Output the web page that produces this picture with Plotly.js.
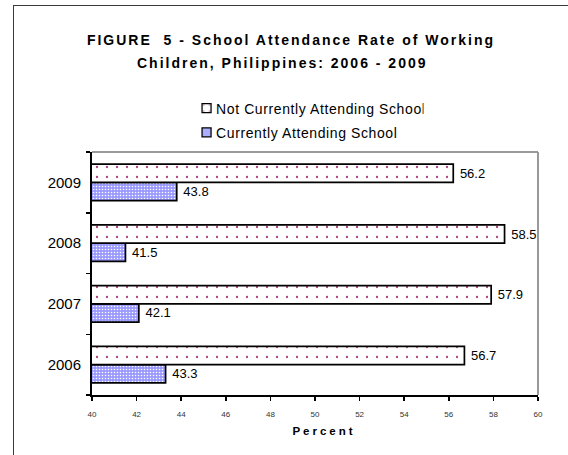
<!DOCTYPE html>
<html>
<head>
<meta charset="utf-8">
<script src="https://cdn.plot.ly/plotly-3.0.1.min.js"></script>
<style>
  html, body { margin: 0; padding: 0; background: #fff; }
  #wrap { position: relative; width: 568px; height: 455px; overflow: hidden; }
  #frame { position: absolute; left: 13px; top: 5px; width: 700px; height: 700px;
           border-left: 1.5px solid #3a3a3a; border-top: 1.5px solid #3a3a3a; pointer-events: none; }
  #chart { position: absolute; left: 0; top: 0; width: 568px; height: 455px; }
  .gtitle { letter-spacing: 2px; }
  .annotation-text { letter-spacing: 2px; }
  .xtitle { letter-spacing: 3px; transform: translateX(9px); }
  .legend .legendtext { letter-spacing: 0.6px; transform: translateX(-10.5px); }
  .legend .legendpoints path { transform: translate(20px, 0px) scale(0.75); }
</style>
</head>
<body>
<div id="wrap">
  <div id="chart"></div>
  <div id="frame"></div>
</div>
<script>
const years = ["2006", "2007", "2008", "2009"];
const notAttending = [56.7, 57.9, 58.5, 56.2];
const attending = [43.3, 42.1, 41.5, 43.8];
const seriesNames = ["Not Currently Attending School", "Currently Attending School"];
const xTicks = [40, 42, 44, 46, 48, 50, 52, 54, 56, 58, 60];
const titleLines = ["FIGURE  5 - School Attendance Rate of Working", "Children, Philippines: 2006 - 2009"];

const FONT = "Arial, 'Liberation Sans', sans-serif";
const labelFont = { family: FONT, size: 13, color: "#000" };

const traces = [
  {
    type: "bar", orientation: "h", name: seriesNames[1], legendgroup: "b", legendrank: 2,
    y: years, x: attending,
    text: attending.map(v => " " + v.toFixed(1)), textposition: "outside",
    textfont: labelFont, cliponaxis: false,
    marker: {
      color: "#9999FF",
      line: { color: "#000", width: 1.7 },
      pattern: { shape: ".", bgcolor: "#9999FF", fgcolor: "#ffffff", size: 3, solidity: 0.22, fillmode: "replace" }
    }
  },
  {
    type: "bar", orientation: "h", name: seriesNames[0], legendgroup: "a", legendrank: 1,
    y: years, x: notAttending,
    text: notAttending.map(v => " " + v.toFixed(1)), textposition: "outside",
    textfont: labelFont, cliponaxis: false,
    marker: {
      color: "#ffffff",
      line: { color: "#000", width: 1.7 },
      pattern: { shape: ".", bgcolor: "#ffffff", fgcolor: "#B0407F", size: 10, solidity: 0.04, fillmode: "replace" }
    }
  }
];

const layout = {
  width: 568, height: 455,
  margin: { l: 92, r: 30, t: 152, b: 60, pad: 0 },
  paper_bgcolor: "#fff", plot_bgcolor: "#fff",
  font: { family: FONT, color: "#000" },
  title: {
    text: titleLines[0],
    font: { size: 14, color: "#000", weight: "bold", family: FONT },
    x: 0.5123, xanchor: "center", xref: "container",
    y: 0.912, yanchor: "middle", yref: "container"
  },
  annotations: [
    {
      text: titleLines[1], showarrow: false,
      xref: "paper", yref: "paper", x: 0.428, y: 1.366, xanchor: "center", yanchor: "middle",
      font: { size: 14, color: "#000", weight: "bold", family: FONT }
    }
  ],
  barmode: "group", bargap: 0.4, bargroupgap: 0,
  showlegend: true,
  legend: {
    x: 0.212, xanchor: "left", y: 1.245, yanchor: "top",
    traceorder: "grouped", tracegroupgap: 3,
    font: { size: 14, color: "#000", family: FONT },
    bgcolor: "rgba(0,0,0,0)", itemwidth: 30
  },
  xaxis: {
    range: [40, 60], tickvals: xTicks, ticktext: xTicks.map(String),
    ticks: "outside", ticklen: 4, tickwidth: 1.5, tickcolor: "#000",
    showline: true, linecolor: "#000", linewidth: 2,
    showgrid: false, zeroline: false, fixedrange: true,
    tickfont: { size: 8, color: "#333" }, ticklabelstandoff: 6,
    title: { text: "Percent", font: { size: 11.5, weight: "bold", color: "#000", family: FONT }, standoff: 9.5 }
  },
  yaxis: {
    type: "category", categoryorder: "array", categoryarray: years,
    ticks: "outside", tickson: "boundaries", ticklen: 4, tickwidth: 1.5, tickcolor: "#000",
    showline: true, linecolor: "#000", linewidth: 2,
    showgrid: false, zeroline: false, fixedrange: true,
    tickfont: { size: 15, color: "#000", family: FONT }, ticklabelstandoff: 6
  },
  shapes: [
    { type: "line", xref: "paper", yref: "paper", x0: 0, x1: 1, y0: 1, y1: 1, line: { color: "#999", width: 2 }, layer: "below" },
    { type: "line", xref: "paper", yref: "paper", x0: 1, x1: 1, y0: 0, y1: 1, line: { color: "#999", width: 2 }, layer: "below" }
  ]
};

Plotly.newPlot("chart", traces, layout, { displayModeBar: false, staticPlot: true });
</script>
</body>
</html>
